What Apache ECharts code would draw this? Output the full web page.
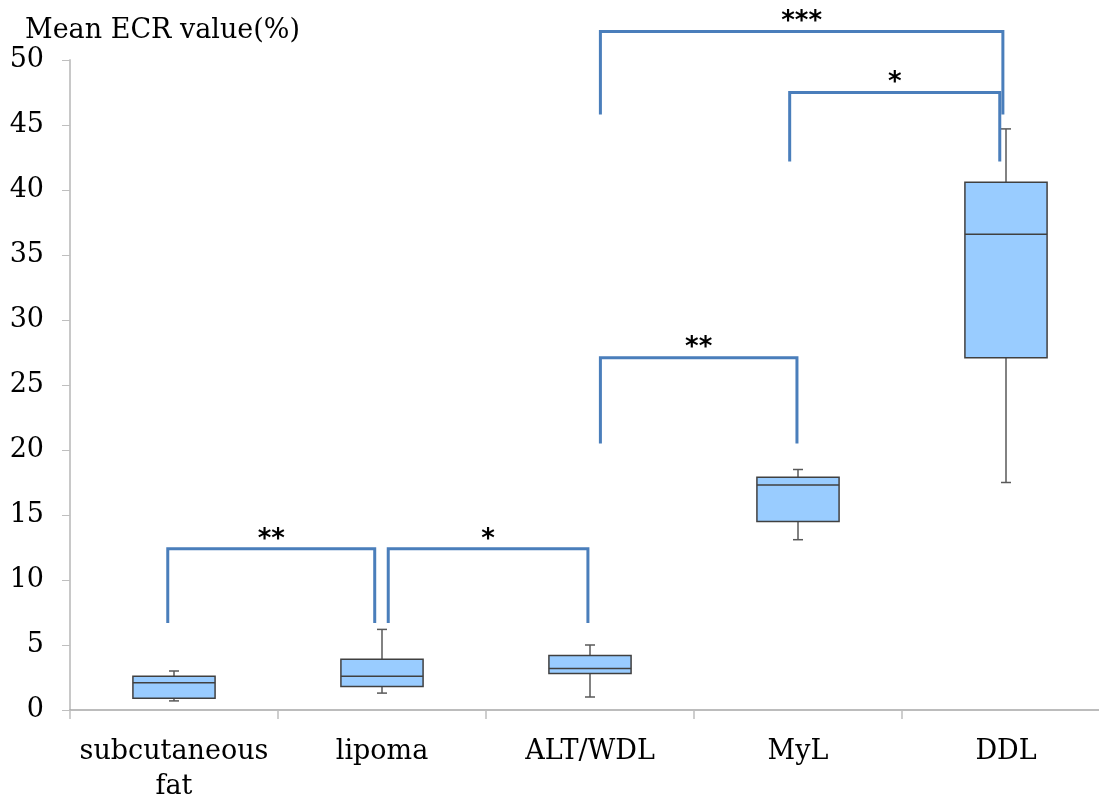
<!DOCTYPE html>
<html>
<head>
<meta charset="utf-8">
<script src="https://cdn.jsdelivr.net/npm/echarts@6/dist/echarts.min.js"></script>
<style>html,body{margin:0;padding:0;background:#fff}#c{width:1099px;height:799px}</style>
</head>
<body>
<div id="c"></div>
<script>
// Data
var categories = ['subcutaneous\nfat', 'lipoma', 'ALT/WDL', 'MyL', 'DDL'];
var boxMin    = [0.7, 1.3, 1.0, 13.1, 17.5];
var boxQ1     = [0.9, 1.8, 2.8, 14.5, 27.1];
var boxMedian = [2.1, 2.6, 3.2, 17.3, 36.6];
var boxQ3     = [2.6, 3.9, 4.2, 17.9, 40.6];
var boxMax    = [3.0, 6.2, 5.0, 18.5, 44.7];
var yTicks = [0, 5, 10, 15, 20, 25, 30, 35, 40, 45, 50];
// significance brackets: [left x (category index units), right x, bar level, leg bottom, label]
var bracketLeft   = [-0.03, 1.03, 2.05, 2.96, 2.05];
var bracketRight  = [0.965, 1.99, 2.995, 3.97, 3.985];
var bracketLevel  = [12.4, 12.4, 27.1, 47.5, 52.2];
var bracketBottom = [6.7, 6.7, 20.5, 42.2, 45.8];
var bracketLabel  = ['**', '*', '**', '*', '***'];

var boxData = categories.map(function (c, i) {
  return [i, boxMin[i], boxQ1[i], boxMedian[i], boxQ3[i], boxMax[i]];
});
var bracketData = bracketLabel.map(function (l, i) {
  return [bracketLeft[i], bracketRight[i], bracketLevel[i], bracketBottom[i], l];
});

var serif = '"DejaVu Serif", "Liberation Serif", serif';
var chart = echarts.init(document.getElementById('c'));
chart.setOption({
  animation: false,
  title: {
    text: 'Mean ECR value(%)', left: 20, top: 12,
    textStyle: { fontFamily: serif, fontSize: 27, fontWeight: 'normal', color: '#000' }
  },
  grid: { left: 70, top: 60, width: 1040, height: 650, outerBoundsMode: 'none', containLabel: false },
  xAxis: [{
    type: 'category', data: categories,
    axisLine: { lineStyle: { color: '#a6a6a6', width: 1.5 } },
    axisTick: { show: true, interval: 0, length: 9, lineStyle: { color: '#bfbfbf', width: 1.5 } },
    axisLabel: { interval: 0, fontFamily: serif, fontSize: 27, color: '#000', margin: 24, lineHeight: 35 },
    splitLine: { show: false }
  }, {
    type: 'value', min: -0.5, max: 4.5, show: false
  }],
  yAxis: {
    type: 'value', min: 0, max: 50, interval: 5,
    axisLine: { show: true, onZero: false, lineStyle: { color: '#c8c8c8', width: 2 } },
    axisTick: { show: true, length: 8, lineStyle: { color: '#bfbfbf', width: 1 } },
    axisLabel: { fontFamily: serif, fontSize: 27, color: '#000', margin: 26,
      formatter: function (v) { return yTicks.indexOf(v) >= 0 ? String(v) : ''; } },
    splitLine: { show: false }
  },
  series: [{
    type: 'custom',
    xAxisIndex: 0,
    data: boxData,
    renderItem: function (params, api) {
      var i = api.value(0);
      var pMin = api.coord([i, api.value(1)]);
      var pQ1 = api.coord([i, api.value(2)]);
      var pMed = api.coord([i, api.value(3)]);
      var pQ3 = api.coord([i, api.value(4)]);
      var pMax = api.coord([i, api.value(5)]);
      var w = api.size([1, 0])[0] * 0.395;
      var x = pMed[0];
      var cap = 5;
      var ws = { stroke: '#595959', lineWidth: 1.5 };
      return {
        type: 'group',
        children: [
          { type: 'line', shape: { x1: x, y1: pMax[1], x2: x, y2: pQ3[1] }, style: ws },
          { type: 'line', shape: { x1: x - cap, y1: pMax[1], x2: x + cap, y2: pMax[1] }, style: ws },
          { type: 'line', shape: { x1: x, y1: pQ1[1], x2: x, y2: pMin[1] }, style: ws },
          { type: 'line', shape: { x1: x - cap, y1: pMin[1], x2: x + cap, y2: pMin[1] }, style: ws },
          { type: 'rect', shape: { x: x - w / 2, y: pQ3[1], width: w, height: pQ1[1] - pQ3[1] },
            style: { fill: '#99ccff', stroke: '#404040', lineWidth: 1.5 } },
          { type: 'line', shape: { x1: x - w / 2, y1: pMed[1], x2: x + w / 2, y2: pMed[1] },
            style: { stroke: '#404040', lineWidth: 1.5 } }
        ]
      };
    }
  }, {
    type: 'custom',
    xAxisIndex: 1,
    clip: false,
    data: bracketData,
    renderItem: function (params, api) {
      var a = api.coord([api.value(0), api.value(3)]);
      var b = api.coord([api.value(0), api.value(2)]);
      var c = api.coord([api.value(1), api.value(2)]);
      var d = api.coord([api.value(1), api.value(3)]);
      var label = bracketData[params.dataIndex][4];
      return {
        type: 'group',
        children: [
          { type: 'polyline', shape: { points: [a, b, c, d] },
            style: { stroke: '#4a7ebb', lineWidth: 3, fill: null, lineJoin: 'miter' } },
          { type: 'text', x: (b[0] + c[0]) / 2, y: b[1] + 4,
            style: { text: label, fontFamily: '"DejaVu Sans", sans-serif', fontSize: 26, fontWeight: 'bold',
              fill: '#000', align: 'center', verticalAlign: 'bottom' } }
        ]
      };
    }
  }]
});
</script>
</body>
</html>
